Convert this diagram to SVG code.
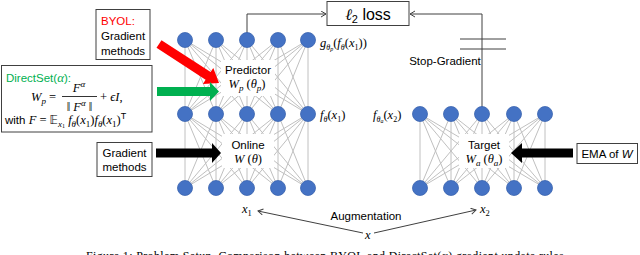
<svg xmlns="http://www.w3.org/2000/svg" width="640" height="255" viewBox="0 0 640 255">
<defs>
<style>
.s{font-family:"Liberation Sans",Arial,sans-serif;font-size:11.5px;fill:#000}
.m{font-family:"Liberation Serif","Times New Roman",serif;font-size:12.5px;fill:#000}
.i{font-style:italic}
.edge{stroke:#c0c0c0;stroke-width:1;fill:none}
.node{fill:#4472c4;stroke:#3a63ae;stroke-width:0.8}
.box{fill:#fff;stroke:#404040;stroke-width:1}
.conn{stroke:#404040;stroke-width:1;fill:none}
.hole{fill:#fff;stroke:none}
</style>
<marker id="oa" markerWidth="8" markerHeight="8" refX="6" refY="3.5" orient="auto" markerUnits="userSpaceOnUse"><path d="M1 0.5 L6 3.5 L1 6.5" fill="none" stroke="#404040" stroke-width="1"/></marker>
</defs>
<rect width="640" height="255" fill="#fff"/>

<g id="edges-network">
<path class="edge" d="M185 40L185 114M185 40L216 114M185 40L247 114M185 40L278 114M185 40L308 114M216 40L185 114M216 40L216 114M216 40L247 114M216 40L278 114M216 40L308 114M247 40L185 114M247 40L216 114M247 40L247 114M247 40L278 114M247 40L308 114M278 40L185 114M278 40L216 114M278 40L247 114M278 40L278 114M278 40L308 114M308 40L185 114M308 40L216 114M308 40L247 114M308 40L278 114M308 40L308 114"/>
<path class="edge" d="M185 114L185 188M185 114L216 188M185 114L247 188M185 114L278 188M185 114L308 188M216 114L185 188M216 114L216 188M216 114L247 188M216 114L278 188M216 114L308 188M247 114L185 188M247 114L216 188M247 114L247 188M247 114L278 188M247 114L308 188M278 114L185 188M278 114L216 188M278 114L247 188M278 114L278 188M278 114L308 188M308 114L185 188M308 114L216 188M308 114L247 188M308 114L278 188M308 114L308 188"/>
<path class="edge" d="M420 114L420 188M420 114L451 188M420 114L482 188M420 114L514 188M420 114L545 188M451 114L420 188M451 114L451 188M451 114L482 188M451 114L514 188M451 114L545 188M482 114L420 188M482 114L451 188M482 114L482 188M482 114L514 188M482 114L545 188M514 114L420 188M514 114L451 188M514 114L482 188M514 114L514 188M514 114L545 188M545 114L420 188M545 114L451 188M545 114L482 188M545 114L514 188M545 114L545 188"/>
</g>

<g id="connectors">
<path class="conn" d="M247 33V14H326" marker-end="url(#oa)"/>
<path class="conn" d="M482 107V14H410" marker-end="url(#oa)"/>
<path class="conn" d="M460 39H506M460 49H506"/>
<path class="conn" d="M363 233L258 211" marker-end="url(#oa)"/>
<path class="conn" d="M374 233L476 210" marker-end="url(#oa)"/>
<polygon points="161.5,40.2 210.6,72.1 213.3,67.9 219,83 202.9,83.9 205.6,79.7 156.5,47.8" fill="#ff0000"/>
<polygon points="157,87 210,87 210,82 219,91.5 210,101 210,96 157,96" fill="#00b050"/>
<polygon points="156,148.5 212,148.5 212,143 221,153 212,163 212,157.5 156,157.5" fill="#000"/>
<polygon points="573,148.5 522,148.5 522,143 511,153 522,163 522,157.5 573,157.5" fill="#000"/>
</g>

<g id="online-predictor-net">
<g id="pred-row">
<circle class="node" cx="185" cy="40" r="7.5"/><circle class="node" cx="216" cy="40" r="7.5"/><circle class="node" cx="247" cy="40" r="7.5"/><circle class="node" cx="278" cy="40" r="7.5"/><circle class="node" cx="308" cy="40" r="7.5"/>
</g>
<g id="mid-row">
<circle class="node" cx="185" cy="114" r="7.5"/><circle class="node" cx="216" cy="114" r="7.5"/><circle class="node" cx="247" cy="114" r="7.5"/><circle class="node" cx="278" cy="114" r="7.5"/><circle class="node" cx="308" cy="114" r="7.5"/>
</g>
<g id="in-row">
<circle class="node" cx="185" cy="188" r="7.5"/><circle class="node" cx="216" cy="188" r="7.5"/><circle class="node" cx="247" cy="188" r="7.5"/><circle class="node" cx="278" cy="188" r="7.5"/><circle class="node" cx="308" cy="188" r="7.5"/>
</g>
</g>

<g id="target-net">
<circle class="node" cx="420" cy="114" r="7.5"/><circle class="node" cx="451" cy="114" r="7.5"/><circle class="node" cx="482" cy="114" r="7.5"/><circle class="node" cx="514" cy="114" r="7.5"/><circle class="node" cx="545" cy="114" r="7.5"/>
<circle class="node" cx="420" cy="188" r="7.5"/><circle class="node" cx="451" cy="188" r="7.5"/><circle class="node" cx="482" cy="188" r="7.5"/><circle class="node" cx="514" cy="188" r="7.5"/><circle class="node" cx="545" cy="188" r="7.5"/>
</g>

<g id="predictor-label">
<rect class="hole" x="221" y="60" width="54" height="36"/>
<text class="s" x="248" y="74" text-anchor="middle">Predictor</text>
<text class="m" x="247" y="88" text-anchor="middle" font-size="13"><tspan class="i">W</tspan><tspan class="i" font-size="9" dy="2.5">p</tspan><tspan dy="-2.5"> (</tspan><tspan class="i">θ</tspan><tspan class="i" font-size="9" dy="2.5">p</tspan><tspan dy="-2.5">)</tspan></text>
</g>

<g id="online-label">
<rect class="hole" x="222" y="134" width="52" height="34"/>
<text class="s" x="248" y="149" text-anchor="middle">Online</text>
<text class="m" x="248" y="163" text-anchor="middle" font-size="13"><tspan class="i">W</tspan> (<tspan class="i">θ</tspan>)</text>
</g>

<g id="target-label">
<rect class="hole" x="459" y="134" width="50" height="34"/>
<text class="s" x="484" y="149" text-anchor="middle">Target</text>
<text class="m" x="484" y="163" text-anchor="middle" font-size="13"><tspan class="i">W</tspan><tspan class="i" font-size="9" dy="2.5">a</tspan><tspan dy="-2.5"> (</tspan><tspan class="i">θ</tspan><tspan class="i" font-size="9" dy="2.5">a</tspan><tspan dy="-2.5">)</tspan></text>
</g>

<g id="loss">
<rect class="box" x="327" y="1.5" width="82" height="24"/>
<text x="368" y="19.5" text-anchor="middle" font-family="Liberation Sans, Arial, sans-serif" font-size="16"><tspan font-family="DejaVu Serif, serif" font-style="italic">ℓ</tspan><tspan font-size="11" dy="3">2</tspan><tspan dy="-3"> loss</tspan></text>
</g>

<g id="stop-gradient">
<text class="s" x="445" y="65" text-anchor="middle" font-size="10.5">Stop-Gradient</text>
</g>

<g id="layer-labels">
<text class="m" x="320" y="47" font-size="12"><tspan class="i">g</tspan><tspan class="i" font-size="8" dy="2.5">θ</tspan><tspan class="i" font-size="6" dy="1.5">p</tspan><tspan dy="-4">(</tspan><tspan class="i">f</tspan><tspan class="i" font-size="8" dy="2.5">θ</tspan><tspan dy="-2.5">(</tspan><tspan class="i">x</tspan><tspan font-size="8" dy="2.5">1</tspan><tspan dy="-2.5">))</tspan></text>
<text class="m" x="320" y="119" font-size="12"><tspan class="i">f</tspan><tspan class="i" font-size="8" dy="2.5">θ</tspan><tspan dy="-2.5">(</tspan><tspan class="i">x</tspan><tspan font-size="8" dy="2.5">1</tspan><tspan dy="-2.5">)</tspan></text>
<text class="m" x="373" y="119" font-size="12"><tspan class="i">f</tspan><tspan class="i" font-size="8" dy="2.5">θ</tspan><tspan class="i" font-size="6" dy="1.5">a</tspan><tspan dy="-4">(</tspan><tspan class="i">x</tspan><tspan font-size="8" dy="2.5">2</tspan><tspan dy="-2.5">)</tspan></text>
<text class="m" x="242" y="213" font-size="13"><tspan class="i">x</tspan><tspan font-size="8.5" dy="3">1</tspan></text>
<text class="m" x="480" y="213" font-size="13"><tspan class="i">x</tspan><tspan font-size="8.5" dy="3">2</tspan></text>
<text class="m i" x="365" y="239" font-size="13">x</text>
<text class="s" x="366" y="220" text-anchor="middle" font-size="10.5">Augmentation</text>
</g>

<g id="byol-box">
<rect class="box" x="96" y="9.5" width="54" height="50"/>
<text class="s" x="101" y="25" style="fill:#ff0000">BYOL:</text>
<text class="s" x="101" y="40">Gradient</text>
<text class="s" x="101" y="55">methods</text>
</g>

<g id="directset-box">
<rect class="box" x="1.5" y="65.5" width="150.5" height="66.5"/>
<text class="s" x="6" y="82" style="fill:#00b050">DirectSet(<tspan class="i" font-family="Liberation Serif, serif" font-size="13">α</tspan>):</text>
<text class="m" x="31" y="101" font-size="13.5"><tspan class="i">W</tspan><tspan class="i" font-size="9" dy="2.5">p</tspan><tspan dy="-2.5"> =</tspan></text>
<text class="m" x="79" y="92" text-anchor="middle" font-size="13.5"><tspan class="i">F</tspan><tspan class="i" font-size="9" dy="-5">α</tspan></text>
<line x1="62" y1="96.5" x2="97" y2="96.5" stroke="#000" stroke-width="0.8"/>
<text class="m" x="79.5" y="111" text-anchor="middle" font-size="13.5">‖ <tspan class="i">F</tspan><tspan class="i" font-size="9" dy="-5">α</tspan><tspan dy="5"> ‖</tspan></text>
<text class="m" x="100" y="101" font-size="13.5">+ <tspan class="i">ϵI</tspan>,</text>
<text class="m" x="5" y="124" font-size="13.5"><tspan class="s">with </tspan><tspan class="i">F</tspan> = <tspan font-family="DejaVu Sans, sans-serif" font-size="11.5">𝔼</tspan><tspan class="i" font-size="9" dy="2.5">x</tspan><tspan font-size="6" dy="1.5">1</tspan><tspan class="i" dy="-4"> f</tspan><tspan class="i" font-size="9" dy="2.5">θ</tspan><tspan dy="-2.5">(</tspan><tspan class="i">x</tspan><tspan font-size="9" dy="2.5">1</tspan><tspan dy="-2.5">)</tspan><tspan class="i">f</tspan><tspan class="i" font-size="9" dy="2.5">θ</tspan><tspan dy="-2.5">(</tspan><tspan class="i">x</tspan><tspan font-size="9" dy="2.5">1</tspan><tspan dy="-2.5">)</tspan><tspan font-size="9" dy="-5" font-family="Liberation Sans, sans-serif">T</tspan></text>
</g>

<g id="gradient-box">
<rect class="box" x="97" y="142.5" width="55" height="34"/>
<text class="s" x="124.5" y="157" text-anchor="middle">Gradient</text>
<text class="s" x="124.5" y="171" text-anchor="middle">methods</text>
</g>

<g id="ema-box">
<rect class="box" x="577" y="143.5" width="60.5" height="20"/>
<text class="s" x="607" y="157.5" text-anchor="middle">EMA of <tspan class="i">W</tspan></text>
</g>

<text x="86" y="260" font-family="Liberation Serif, serif" font-size="12" textLength="481" lengthAdjust="spacing">Figure 1: Problem Setup. Comparison between BYOL and DirectSet(α) gradient update rules.</text>
</svg>
